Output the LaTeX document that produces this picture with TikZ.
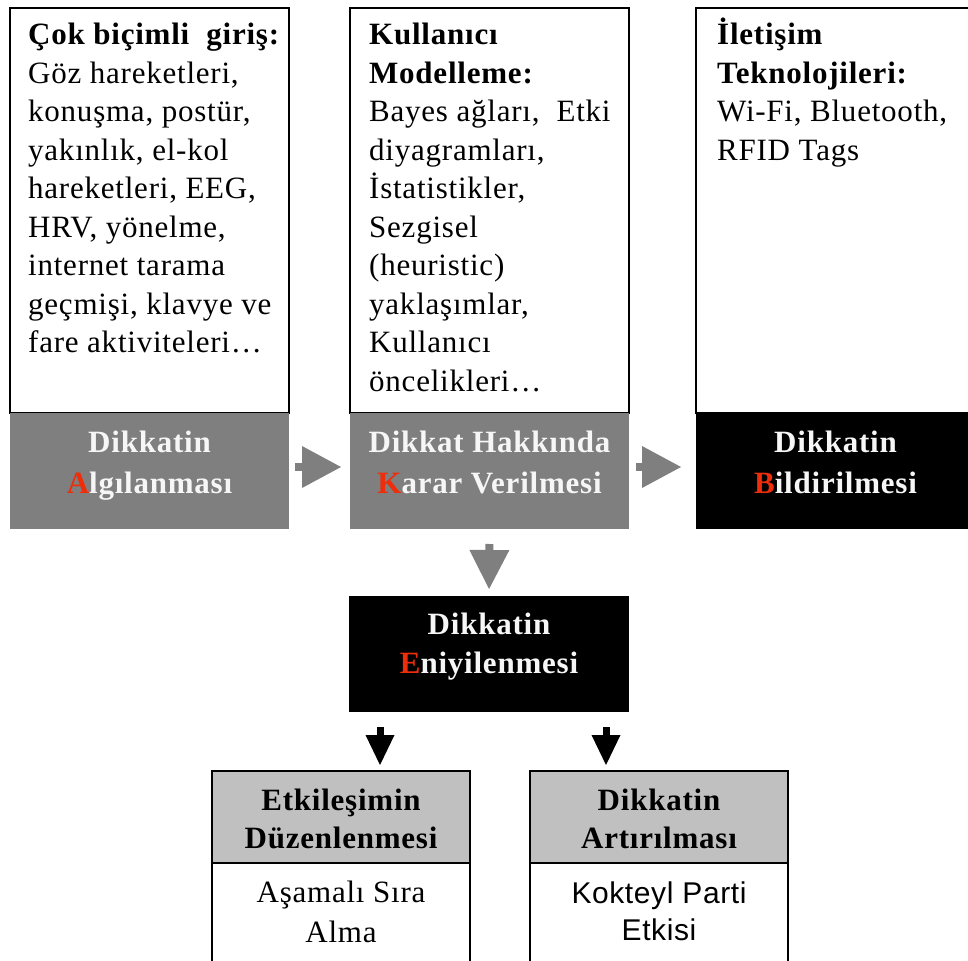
\documentclass[tikz,border=0pt]{standalone}
\usepackage{fontspec}
\setmainfont[LetterSpace=2.5]{Liberation Serif}
\newfontfamily\sansf[LetterSpace=2]{Liberation Sans}
\usetikzlibrary{arrows.meta,calc}
\definecolor{hdrgray}{RGB}{127,127,127}
\definecolor{subgray}{RGB}{192,192,192}
\definecolor{redl}{RGB}{238,45,10}
\definecolor{htxt}{RGB}{246,246,246}
\newcommand{\mainfs}{\fontsize{31}{38.5}\selectfont}
\newcommand{\hdrfs}{\fontsize{31}{41}\selectfont}
\newcommand{\rl}[1]{\textcolor{redl}{#1}}
\begin{document}
\begin{tikzpicture}[x=1pt,y=-1pt,
  box/.style={anchor=north west, inner sep=0pt, outer sep=0pt, line width=1.5pt},
  whitebox/.style={box, draw=black, fill=white},
  darkhdr/.style={box, fill=hdrgray},
  blackhdr/.style={box, fill=black},
  subhdr/.style={box, draw=black, fill=subgray},
  topsize/.style={minimum width=279pt},
  bodytext/.style={anchor=base west, inner sep=0pt, font=\mainfs},
  hdrtext/.style={anchor=base, inner sep=0pt, text=htxt, font=\hdrfs\bfseries},
  subtext/.style={anchor=base, inner sep=0pt, text=black, font=\fontsize{31}{38}\selectfont\bfseries},
  celltext/.style={anchor=base, inner sep=0pt, text=black, font=\fontsize{31}{40}\selectfont},
  garrow/.style={draw=hdrgray, line width=8pt, -{Triangle[length=39pt,width=42pt,line width=0pt]}},
  garrowv/.style={draw=hdrgray, line width=8pt, -{Triangle[length=39pt,width=40pt,line width=0pt]}},
  barrow/.style={draw=black, line width=7pt, -{Triangle[length=30pt,width=29pt,line width=0pt]}}
]
\useasboundingbox (0,0) rectangle (968,960);

% top row boxes
\node[whitebox, topsize, minimum height=405pt] (w1) at (10,8) {};
\node[darkhdr, topsize, minimum height=116pt] (h1) at (10,413) {};
\node[whitebox, topsize, minimum height=405pt] (w2) at (350,8) {};
\node[darkhdr, topsize, minimum height=116pt] (h2) at (350,413) {};
\node[whitebox, topsize, minimum height=405pt] (w3) at (696,8) {};
\node[blackhdr, topsize, minimum height=116pt] (h3) at (696,413) {};

% top row texts
\node[bodytext] (t1) at ($(w1.north west)+(18,37)$) {\parbox[t]{265pt}{\raggedright
  \textbf{Çok biçimli\ \ giriş:}\\Göz hareketleri,\\konuşma, postür,\\yakınlık,\ el-kol\\hareketleri, EEG,\\HRV, yönelme,\\internet tarama\\geçmişi, klavye ve\\fare aktiviteleri…}};
\node[bodytext] (t2) at ($(w2.north west)+(19,37)$) {\parbox[t]{265pt}{\raggedright
  \textbf{Kullanıcı}\\\textbf{Modelleme:}\\Bayes ağları,\ \ Etki\\diyagramları,\\İstatistikler,\\Sezgisel\\(heuristic)\\yaklaşımlar,\\Kullanıcı\\öncelikleri…}};
\node[bodytext] (t3) at ($(w3.north west)+(21,37)$) {\parbox[t]{250pt}{\raggedright
  \textbf{İletişim}\\\textbf{Teknolojileri:}\\Wi-Fi, Bluetooth,\\RFID Tags}};

\node[hdrtext] (h1t) at ($(h1.north)+(0,39)$) {\parbox[t]{270pt}{\centering Dikkatin\\\rl{A}lgılanması}};
\node[hdrtext] (h2t) at ($(h2.north)+(0,39)$) {\parbox[t]{270pt}{\centering Dikkat Hakkında\\\rl{K}arar Verilmesi}};
\node[hdrtext] (h3t) at ($(h3.north)+(0,39)$) {\parbox[t]{270pt}{\centering Dikkatin\\\rl{B}ildirilmesi}};

% middle black box
\node[blackhdr, minimum width=280pt, minimum height=116pt] (eni) at (349,596) {};
\node[hdrtext] (enit) at ($(eni.north)+(0,38)$) {\parbox[t]{270pt}{\fontsize{31}{39}\selectfont\centering Dikkatin\\\rl{E}niyilenmesi}};

% bottom boxes
\node[whitebox, minimum width=258pt, minimum height=210pt] (bl) at (212,771) {};
\node[subhdr, minimum width=258pt, minimum height=92pt] (blh) at (212,771) {};
\node[whitebox, minimum width=258pt, minimum height=210pt] (br) at (530,771) {};
\node[subhdr, minimum width=258pt, minimum height=92pt] (brh) at (530,771) {};

\node[subtext] (blht) at ($(blh.north)+(0,39)$) {\parbox[t]{250pt}{\centering Etkileşimin\\Düzenlenmesi}};
\node[subtext] (brht) at ($(brh.north)+(0,39)$) {\parbox[t]{250pt}{\centering Dikkatin\\Artırılması}};
\node[celltext] (blb) at ($(blh.south)+(0,39)$) {\parbox[t]{250pt}{\centering Aşamalı Sıra\\Alma}};
\node[celltext, font=\sansf\fontsize{30}{37}\selectfont] (brb) at ($(brh.south)+(0,40)$) {\parbox[t]{250pt}{\centering Kokteyl Parti\\Etkisi}};

% arrows
\draw[garrow, shorten <=6pt, shorten >=9pt] ([yshift=4pt]h1.east) -- ([yshift=4pt]h2.west);
\draw[garrow, shorten <=7pt, shorten >=15pt] ([yshift=4pt]h2.east) -- ([yshift=4pt]h3.west);
\draw[garrowv, shorten <=15pt, shorten >=7pt] (h2.south) -- (eni.north);
\draw[barrow, shorten <=15pt, shorten >=6pt] ([xshift=-109pt]eni.south) -- ([xshift=-109pt]eni.south |- blh.north);
\draw[barrow, shorten <=15pt, shorten >=6pt] ([xshift=117pt]eni.south) -- ([xshift=117pt]eni.south |- brh.north);
\end{tikzpicture}
\end{document}
